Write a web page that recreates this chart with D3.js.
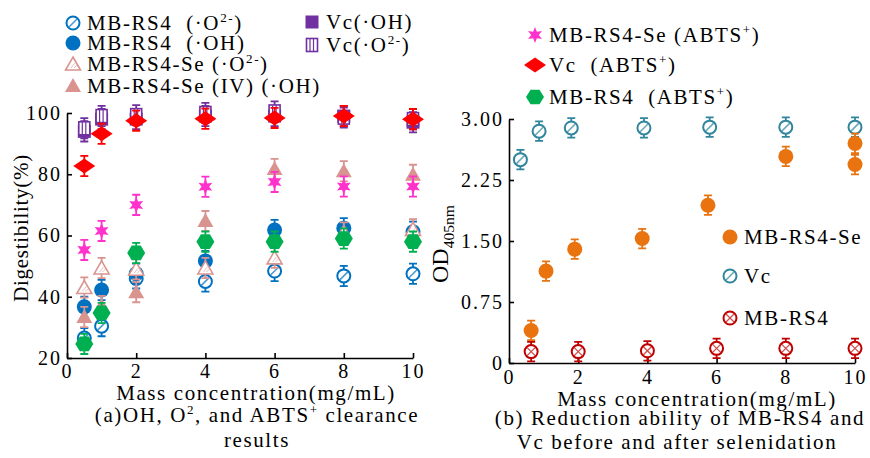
<!DOCTYPE html>
<html>
<head>
<meta charset="utf-8">
<script src="https://cdn.jsdelivr.net/npm/d3@7"></script>
<style>
  body { margin: 0; background: #fff; }
  svg text { font-family: "Times New Roman", "Liberation Serif", "DejaVu Serif", serif !important; fill: #000; }
</style>
</head>
<body>
<div id="vis-container"></div>
<script>
// ---- data ----
const concL = [0.5, 1, 2, 4, 6, 8, 10];

const mbO2 = [26.5, 30.4, 46, 45, 48.4, 46.8, 47.5];
const mbOH = [36.7, 42.2, 47.5, 51.7, 61.8, 62.4, 61.2];
const seO2 = [43, 49.4, 49, 49.4, 52.7, 61, 62];
const seOH = [33.4, 37, 41.5, 64.7, 81.7, 81, 79.8];
const vcOH = [94, 98, 98, 99, 99, 99, 97];
const vcO2 = [95, 99, 99.3, 100, 100.5, 98.5, 98];
const vcABTS = [82.7, 93.2, 97.5, 98.1, 98.4, 99, 98];
const seABTS = [55.3, 61.5, 70, 75.9, 77.5, 76, 76];
const mbABTS = [24.6, 34.7, 54.3, 58, 58, 59, 58];
const errL = [3.3, 3.3, 3.3, 3.3, 3.3, 3.3, 3.3];

const vcX = [0.33, 0.87, 1.8, 3.9, 5.8, 8, 10];
const vcOD = [2.5, 2.85, 2.89, 2.89, 2.9, 2.9, 2.9];
const seX = [0.64, 1.07, 1.9, 3.85, 5.75, 8, 10, 10];
const seOD = [0.4, 1.13, 1.4, 1.53, 1.94, 2.54, 2.7, 2.44];
const mbX = [0.64, 2, 4, 6, 8, 10];
const mbOD = [0.14, 0.14, 0.15, 0.18, 0.18, 0.18];
const errR = 0.12;

const xTicks = [0, 2, 4, 6, 8, 10];
const yTicksL = [20, 40, 60, 80, 100];
const yTicksR = [0, 0.75, 1.5, 2.25, 3];

const width = 870;
const height = 458;
const fs = 21;      // base font size
const ls = "1.6px"; // letter spacing of the scanned-looking text

const svg = d3.select("#vis-container")
  .append("svg")
  .attr("width", width)
  .attr("height", height);

// scales
const xL = d3.scaleLinear().domain([0, 10]).range([67, 413]);
const yL = d3.scaleLinear().domain([20, 100]).range([358, 113]);
const xR = d3.scaleLinear().domain([0, 10]).range([509, 855]);
const yR = d3.scaleLinear().domain([0, 3]).range([363, 119]);

// ---- marker shapes ----
function starPath(ro, ri) {
  const pts = d3.range(12).map(i => {
    const a = Math.PI / 6 * i - Math.PI / 2;
    const r = i % 2 ? ri : ro;
    return [r * Math.cos(a), r * Math.sin(a)];
  });
  return "M" + pts.join("L") + "Z";
}
function polyPath(n, rx, ry, rot) {
  const pts = d3.range(n).map(i => {
    const a = 2 * Math.PI / n * i + rot;
    return [rx * Math.cos(a), ry * Math.sin(a)];
  });
  return "M" + pts.join("L") + "Z";
}

function drawMarker(g, type, color) {
  if (type === "circle") {
    g.append("circle").attr("r", 7.5).attr("fill", color);
  } else if (type === "circleHatch") {
    g.append("circle").attr("r", 6.5).attr("fill", "#fff").attr("stroke", color).attr("stroke-width", 2);
    g.append("line").attr("x1", -4).attr("y1", 4).attr("x2", 4).attr("y2", -4)
      .attr("stroke", color).attr("stroke-width", 1.6).attr("opacity", 0.7);
  } else if (type === "circleCross") {
    g.append("circle").attr("r", 6.5).attr("fill", "#fff").attr("stroke", color).attr("stroke-width", 2);
    g.append("path").attr("d", "M-4,-4L4,4M-4,4L4,-4")
      .attr("stroke", color).attr("stroke-width", 1.3).attr("opacity", 0.7);
  } else if (type === "tri") {
    g.append("path").attr("d", "M0,-8L8,6L-8,6Z").attr("fill", color);
  } else if (type === "triOpen") {
    g.append("path").attr("d", "M0,-7L7.5,6L-7.5,6Z").attr("fill", "#fff")
      .attr("stroke", color).attr("stroke-width", 1.6);
    g.append("path").attr("d", "M-2,4L2,-1M1,4L4,1").attr("stroke", color).attr("stroke-width", 1).attr("opacity", 0.6);
  } else if (type === "square") {
    g.append("rect").attr("x", -6.5).attr("y", -6.5).attr("width", 13).attr("height", 13).attr("fill", color);
  } else if (type === "squareOpen") {
    g.append("rect").attr("x", -5.5).attr("y", -6.5).attr("width", 11).attr("height", 13)
      .attr("fill", "#fff").attr("stroke", color).attr("stroke-width", 1.6);
    g.append("path").attr("d", "M-2,-6V6M1.5,-6V6").attr("stroke", color).attr("stroke-width", 1.2);
  } else if (type === "diamond") {
    g.append("path").attr("d", "M-11,0L0,-7.5L11,0L0,7.5Z").attr("fill", color);
  } else if (type === "star") {
    g.append("path").attr("d", starPath(8, 3.8)).attr("fill", color);
  } else if (type === "hex") {
    g.append("path").attr("d", polyPath(6, 9, 8.5, 0)).attr("fill", color);
  }
}

function drawSeries(xs, ys, err, xScale, yScale, type, color) {
  const g = svg.append("g");
  const pts = g.selectAll("g").data(ys).enter().append("g")
    .attr("transform", (d, i) => `translate(${xScale(xs[i])},${yScale(d)})`);
  pts.each(function (d, i) {
    const p = d3.select(this);
    const e = Array.isArray(err) ? err[i] : err;
    const dy = Math.abs(yScale(d + e) - yScale(d));
    p.append("path")
      .attr("d", `M0,${-dy}V${dy}M-4,${-dy}H4M-4,${dy}H4`)
      .attr("stroke", color).attr("stroke-width", 1.8).attr("fill", "none");
    drawMarker(p, type, color);
  });
}

// ---- colours ----
const blue = "#0070c0", pink = "#d99490", purple = "#7030a0", red = "#ff0000",
      magenta = "#ff33cc", green = "#00b050", orange = "#e8730f", teal = "#31859c", darkRed = "#c00000";

function styleTicks(g) {
  g.selectAll("text").attr("font-size", "20px").attr("letter-spacing", "2px");
}

// ---- left chart axes ----
svg.append("g")
  .attr("transform", `translate(0,${yL(20)})`)
  .call(d3.axisBottom(xL).tickValues(xTicks).tickSizeInner(-5).tickSizeOuter(0).tickPadding(6))
  .call(styleTicks);
svg.append("g")
  .attr("transform", `translate(${xL(0)},0)`)
  .call(d3.axisLeft(yL).tickValues(yTicksL).tickSizeInner(-5).tickSizeOuter(0).tickPadding(5))
  .call(styleTicks);

// ---- right chart axes ----
svg.append("g")
  .attr("transform", `translate(0,${yR(0)})`)
  .call(d3.axisBottom(xR).tickValues(xTicks).tickSizeInner(-5).tickSizeOuter(0).tickPadding(7))
  .call(styleTicks);
svg.append("g")
  .attr("transform", `translate(${xR(0)},0)`)
  .call(d3.axisLeft(yR).tickValues(yTicksR).tickSizeInner(-5).tickSizeOuter(0).tickPadding(5)
    .tickFormat(d => d === 0 ? "0" : d3.format(".2f")(d)))
  .call(styleTicks);

svg.selectAll(".domain, .tick line").attr("stroke", "#000").attr("stroke-width", 1.6);

// ---- left chart points ----
drawSeries(concL, vcOH, errL, xL, yL, "square", purple);
drawSeries(concL, vcO2, errL, xL, yL, "squareOpen", purple);
drawSeries(concL, mbO2, errL, xL, yL, "circleHatch", blue);
drawSeries(concL, mbOH, errL, xL, yL, "circle", blue);
drawSeries(concL, seO2, errL, xL, yL, "triOpen", pink);
drawSeries(concL, seOH, errL, xL, yL, "tri", pink);
drawSeries(concL, vcABTS, errL, xL, yL, "diamond", red);
drawSeries(concL, seABTS, errL, xL, yL, "star", magenta);
drawSeries(concL, mbABTS, errL, xL, yL, "hex", green);

// ---- right chart points ----
drawSeries(vcX, vcOD, errR, xR, yR, "circleHatch", teal);
drawSeries(seX, seOD, errR, xR, yR, "circle", orange);
drawSeries(mbX, mbOD, errR, xR, yR, "circleCross", darkRed);

// ---- rich text helper: parts of [text, kind] ----
function richText(sel, parts, size) {
  parts.forEach(([t, kind]) => {
    const ts = sel.append("tspan").text(t);
    if (kind === "sup") ts.attr("font-size", size * 0.62 + "px").attr("dy", -size * 0.4);
    else if (kind === "sub") ts.attr("font-size", size * 0.65 + "px").attr("dy", size * 0.25);
    else if (kind === "back") ts.attr("dy", size * 0.4);
  });
}

// ---- legends ----
const legItems = [
  { type: "circleHatch", color: blue, x: 73, y: 23, parts: [["MB-RS4  (·O", ""], ["2-", "sup"], [")", "back"]] },
  { type: "circle", color: blue, x: 73, y: 43, parts: [["MB-RS4  (·OH)", ""]] },
  { type: "triOpen", color: pink, x: 73, y: 64, parts: [["MB-RS4-Se (·O", ""], ["2-", "sup"], [")", "back"]] },
  { type: "tri", color: pink, x: 73, y: 86, parts: [["MB-RS4-Se (IV) (·OH)", ""]] },
  { type: "square", color: purple, x: 312, y: 22, parts: [["Vc(·OH)", ""]] },
  { type: "squareOpen", color: purple, x: 312, y: 45, parts: [["Vc(·O", ""], ["2-", "sup"], [")", "back"]] },
  { type: "star", color: magenta, x: 535, y: 35, parts: [["MB-RS4-Se (ABTS", ""], ["+", "sup"], [")", "back"]] },
  { type: "diamond", color: red, x: 535, y: 65, parts: [["Vc  (ABTS", ""], ["+", "sup"], [")", "back"]] },
  { type: "hex", color: green, x: 535, y: 97, parts: [["MB-RS4  (ABTS", ""], ["+", "sup"], [")", "back"]] },
  { type: "circle", color: orange, x: 730, y: 237, parts: [["MB-RS4-Se", ""]] },
  { type: "circleHatch", color: teal, x: 730, y: 276, parts: [["Vc", ""]] },
  { type: "circleCross", color: darkRed, x: 730, y: 318, parts: [["MB-RS4", ""]] }
];
legItems.forEach(d => {
  const g = svg.append("g").attr("transform", `translate(${d.x},${d.y})`);
  drawMarker(g, d.type, d.color);
  const t = svg.append("text")
    .attr("x", d.x + 14).attr("y", d.y + 7)
    .attr("font-size", fs + "px")
    .attr("letter-spacing", ls)
    .style("white-space", "pre");
  richText(t, d.parts, fs);
});

// ---- axis titles ----
svg.append("text")
  .attr("transform", "translate(28,228) rotate(-90)")
  .attr("text-anchor", "middle").attr("font-size", fs + "px")
  .attr("letter-spacing", "0.7px")
  .text("Digestibility(%)");

const od = svg.append("text")
  .attr("transform", "translate(448,244) rotate(-90)")
  .attr("text-anchor", "middle").attr("font-size", "24px");
richText(od, [["OD", ""], ["405nm", "sub"]], 24);

function centered(x, y, parts) {
  const t = svg.append("text").attr("x", x).attr("y", y)
    .attr("text-anchor", "middle").attr("font-size", fs + "px")
    .attr("letter-spacing", ls);
  richText(t, parts, fs);
}

centered(256, 400, [["Mass concentration(mg/mL)", ""]]);
centered(697, 406, [["Mass concentration(mg/mL)", ""]]);

// ---- captions ----
centered(257, 422, [["(a)OH, O", ""], ["2", "sup"], [", and ABTS", "back"], ["+", "sup"], [" clearance", "back"]]);
centered(257, 447, [["results", ""]]);
centered(680, 425, [["(b) Reduction ability of MB-RS4 and", ""]]);
centered(677, 449, [["Vc before and after selenidation", ""]]);
</script>
</body>
</html>
